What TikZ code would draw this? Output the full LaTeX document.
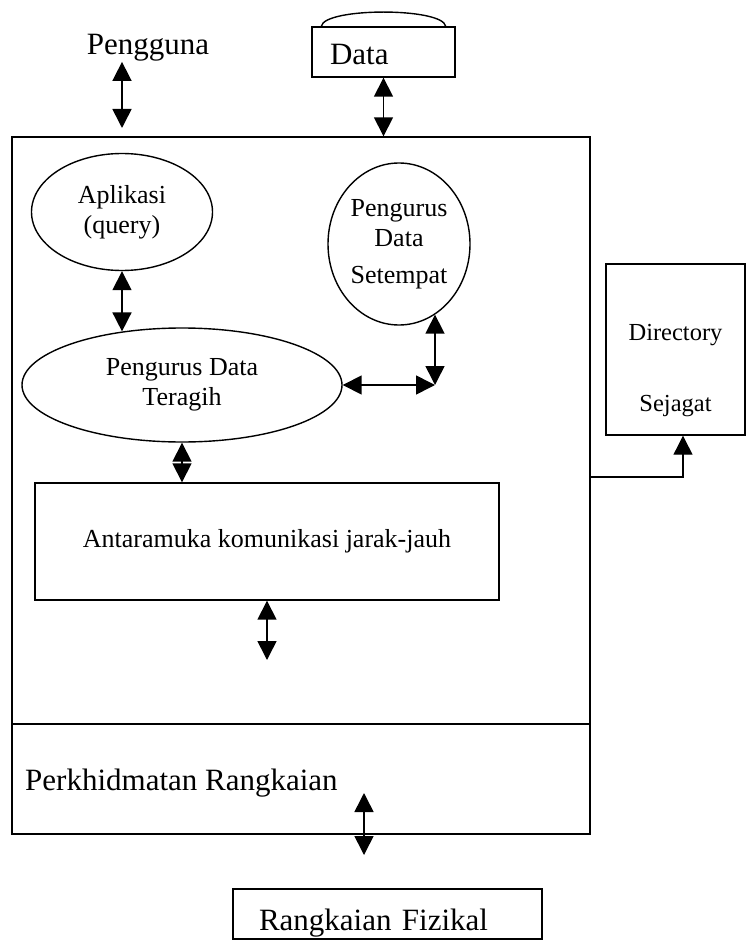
\documentclass[tikz,border=0pt]{standalone}
\usepackage{fontspec}
\setmainfont{Liberation Serif}
\usetikzlibrary{arrows.meta,shapes.geometric}

\begin{document}
\begin{tikzpicture}[
  x=1pt,y=-1pt,
  big/.style={font=\fontsize{31pt}{36pt}\selectfont,inner sep=0pt},
  mid/.style={font=\fontsize{26pt}{30pt}\selectfont,align=center},
  box/.style={draw,line width=1.4pt,inner sep=0pt},
  blob/.style={ellipse,draw,line width=1.4pt,inner sep=0pt,mid},
  arr/.style={{Triangle[length=19pt,width=19pt]}-{Triangle[length=19pt,width=19pt]},line width=1.6pt},
  arrone/.style={-{Triangle[length=19pt,width=19pt]},line width=1.2pt}
]
  \useasboundingbox (0,0) rectangle (746,941);

  % Top -- user and data
  \node[big,anchor=base] (peng) at (148,55) {Pengguna};
  \node[box,big,minimum width=143pt,minimum height=50pt,text width=107pt,align=left,
        text height=26pt,text depth=0pt] (data) at (383.5,52) {Data};
  \draw[line width=1.4pt] ([xshift=10pt]data.north west) .. controls +(3,-19) and +(-3,-19) .. ([xshift=-10pt]data.north east);

  % Main box
  \node[box,minimum width=578pt,minimum height=697pt] (sys) at (301,485.5) {};
  \coordinate (pengin) at (122,128);
  \draw[arr] (pengin |- peng.south) -- (pengin);
  \draw[arr] (data.south) -- (data.south |- sys.north);

  % Data managers
  \node[blob,minimum width=181pt,minimum height=117pt] (apl) at (122,212) {Aplikasi\\(query)};
  \node[blob,minimum width=142pt,minimum height=162pt] (set) at (399,244) {Pengurus\\Data\\[7pt]Setempat};
  \node[blob,minimum width=320pt,minimum height=114pt] (ter) at (182,385) {Pengurus Data\\Teragih};

  \coordinate (jn) at (ter.east -| set.297);
  \draw[arr] (apl.south) -- (apl.south |- ter.138);
  \draw[arr] (set.297) -- (jn);
  \draw[arr] (ter.east) -- (jn);

  % Remote interface
  \node[box,mid,minimum width=464pt,minimum height=117pt] (ant) at (267,541.5) {Antaramuka komunikasi jarak-jauh};
  \coordinate (antout) at (267,660);
  \draw[arr] (ter.south) -- (ter.south |- ant.north);
  \draw[arr] (ant.south) -- (antout);

  % Network layer
  \coordinate (lay) at (0,724);
  \draw[line width=1.4pt] (sys.west |- lay) -- (sys.east |- lay);
  \node[big,anchor=base west] (net) at (25,790) {Perkhidmatan Rangkaian};
  \coordinate (netup) at (364,793);
  \coordinate (netdn) at (364,855);
  \draw[arr] (netup) -- (netdn);

  \node[box,big,minimum width=309pt,minimum height=50pt,text width=257pt,align=left,
        text height=34pt,text depth=2pt] (fiz) at (387.5,914) {Rangkaian Fizikal};

  % Directory
  \node[box,minimum width=139pt,minimum height=171pt] (dir) at (675.5,349.5) {};
  \node[font=\fontsize{24.5pt}{29pt}\selectfont,align=center,inner sep=0pt] (dirtxt)
        at ([yshift=-21pt]dir.center) {Directory\\[42pt]Sejagat};
  \coordinate (lk) at (683,477);
  \draw[arrone] (lk -| sys.east) -- (lk) -- (lk |- dir.south);
\end{tikzpicture}
\end{document}
